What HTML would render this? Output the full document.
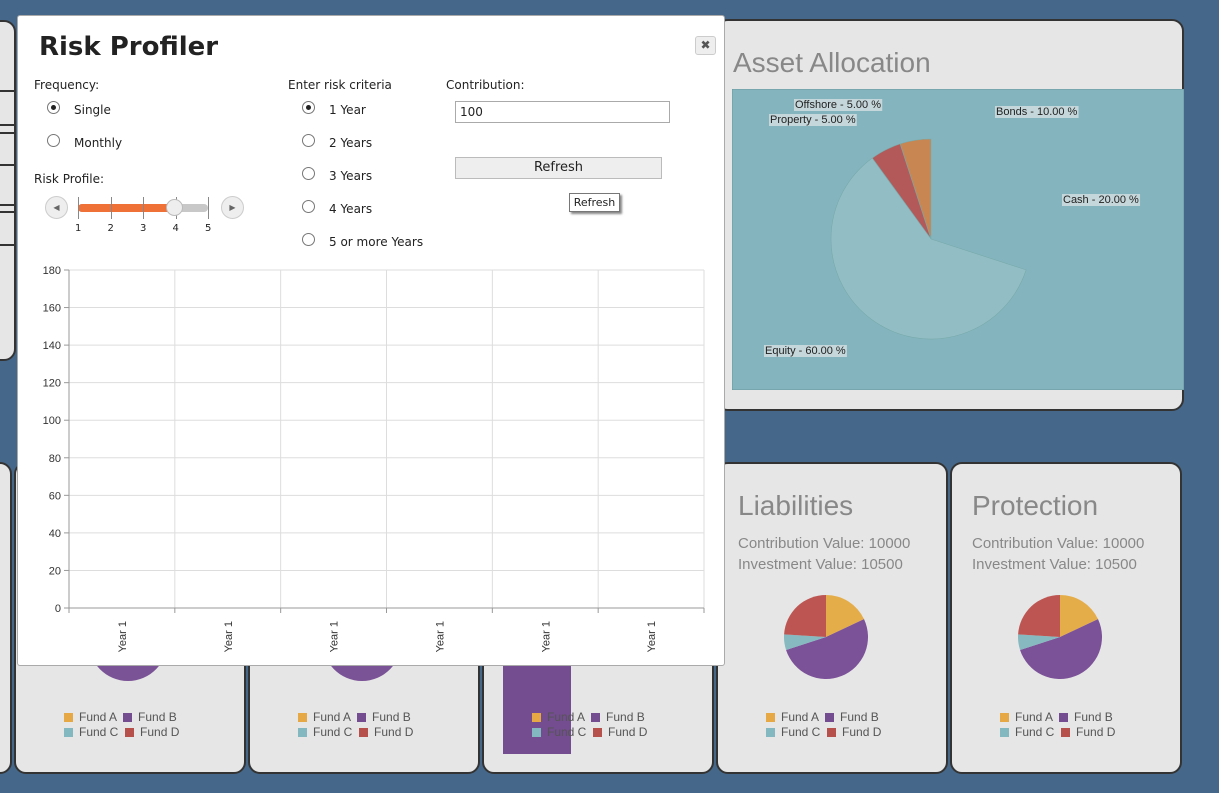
<!DOCTYPE html>
<html><head><meta charset="utf-8">
<style>
*{box-sizing:border-box;margin:0;padding:0}
body{width:1219px;height:793px;background:#45688a;position:relative;overflow:hidden;font-family:"Liberation Sans",sans-serif}
.card{position:absolute;background:#e6e6e6;border:2px solid #333;border-radius:12px}
.ctitle{position:absolute;color:#888;font-size:28px;font-family:"Liberation Sans",sans-serif}
.ctext{position:absolute;color:#888;font-size:15px;line-height:21px}
.legend{position:absolute;font-size:12px;color:#555;line-height:15px}
.legend span.sq{display:inline-block;width:9px;height:9px;margin-right:6px;vertical-align:-1px}
#modal{position:absolute;left:17px;top:15px;width:708px;height:651px;background:#fff;border:1px solid #aaa;border-radius:3px;font-family:"DejaVu Sans",sans-serif;font-size:12px;color:#222}
.lbl{position:absolute;white-space:nowrap}
.radio{position:absolute;width:13px;height:13px;border:1px solid #777;border-radius:50%;background:#fff}
.radio.on::after{content:"";position:absolute;left:3px;top:3px;width:5px;height:5px;border-radius:50%;background:#222}
</style></head><body>
<div class="card" style="left:-20px;top:20px;width:36px;height:341px">
 <div style="position:absolute;left:0;top:68px;width:34px;border-top:2px solid #333"></div>
 <div style="position:absolute;left:0;top:102px;width:34px;border-top:2px solid #333"></div>
 <div style="position:absolute;left:0;top:110px;width:34px;border-top:2px solid #333"></div>
 <div style="position:absolute;left:0;top:142px;width:34px;border-top:2px solid #333"></div>
 <div style="position:absolute;left:0;top:182px;width:34px;border-top:2px solid #333"></div>
 <div style="position:absolute;left:0;top:189px;width:34px;border-top:2px solid #333"></div>
 <div style="position:absolute;left:0;top:222px;width:34px;border-top:2px solid #333"></div>
</div>
<div class="card" style="left:716px;top:19px;width:468px;height:392px">
 <div class="ctitle" style="left:15px;top:26px">Asset Allocation</div>
 <svg id="alloc" style="position:absolute;left:14px;top:68px" width="452" height="301"></svg>
</div>
<div class="card" style="left:-20px;top:462px;width:32px;height:312px"></div>
<div class="card" style="left:14px;top:462px;width:232px;height:312px">
 <div style="position:absolute;left:72px;top:135px;width:80px;height:82px;border-radius:50%;background:#7a5296"></div>
 <div class="legend" style="left:48px;top:246px"><span class="sq" style="background:#e5a845"></span>Fund A &nbsp;<span class="sq" style="background:#744c90"></span>Fund B<br><span class="sq" style="background:#83b8c0"></span>Fund C &nbsp;<span class="sq" style="background:#b5514a"></span>Fund D</div>
</div>
<div class="card" style="left:248px;top:462px;width:232px;height:312px">
 <div style="position:absolute;left:72px;top:135px;width:80px;height:82px;border-radius:50%;background:#7a5296"></div>
 <div class="legend" style="left:48px;top:246px"><span class="sq" style="background:#e5a845"></span>Fund A &nbsp;<span class="sq" style="background:#744c90"></span>Fund B<br><span class="sq" style="background:#83b8c0"></span>Fund C &nbsp;<span class="sq" style="background:#b5514a"></span>Fund D</div>
</div>
<div class="card" style="left:482px;top:462px;width:232px;height:312px">
 <div style="position:absolute;left:19px;top:190px;width:68px;height:100px;background:#744c90"></div>
 <div class="legend" style="left:48px;top:246px"><span class="sq" style="background:#e5a845"></span>Fund A &nbsp;<span class="sq" style="background:#744c90"></span>Fund B<br><span class="sq" style="background:#83b8c0"></span>Fund C &nbsp;<span class="sq" style="background:#b5514a"></span>Fund D</div>
</div>
<div class="card" style="left:716px;top:462px;width:232px;height:312px">
 <div class="ctitle" style="left:20px;top:26px">Liabilities</div>
 <div class="ctext" style="left:20px;top:69px">Contribution Value: 10000<br>Investment Value: 10500</div>
 <svg class="fpie" style="position:absolute;left:64px;top:129px" width="88" height="88"></svg>
 <div class="legend" style="left:48px;top:246px"><span class="sq" style="background:#e5a845"></span>Fund A &nbsp;<span class="sq" style="background:#744c90"></span>Fund B<br><span class="sq" style="background:#83b8c0"></span>Fund C &nbsp;<span class="sq" style="background:#b5514a"></span>Fund D</div>
</div>
<div class="card" style="left:950px;top:462px;width:232px;height:312px">
 <div class="ctitle" style="left:20px;top:26px">Protection</div>
 <div class="ctext" style="left:20px;top:69px">Contribution Value: 10000<br>Investment Value: 10500</div>
 <svg class="fpie" style="position:absolute;left:64px;top:129px" width="88" height="88"></svg>
 <div class="legend" style="left:48px;top:246px"><span class="sq" style="background:#e5a845"></span>Fund A &nbsp;<span class="sq" style="background:#744c90"></span>Fund B<br><span class="sq" style="background:#83b8c0"></span>Fund C &nbsp;<span class="sq" style="background:#b5514a"></span>Fund D</div>
</div>

<div id="modal">
 <div class="lbl" style="left:21px;top:16px;font-size:26px;font-weight:bold">Risk Profiler</div>
 <div style="position:absolute;left:677px;top:20px;width:21px;height:19px;border:1px solid #ccc;border-radius:3px;background:#eee;text-align:center;font-size:12px;line-height:17px;color:#555;font-weight:bold">✖</div>
 <div class="lbl" style="left:16px;top:62px">Frequency:</div>
 <div class="radio on" style="left:29px;top:85px"></div><div class="lbl" style="left:56px;top:87px">Single</div>
 <div class="radio" style="left:29px;top:118px"></div><div class="lbl" style="left:56px;top:120px">Monthly</div>
 <div class="lbl" style="left:16px;top:156px">Risk Profile:</div>
 <div style="position:absolute;left:27px;top:180px;width:23px;height:23px;border:1px solid #ccc;border-radius:50%;background:#eee;font-size:8px;color:#666;text-align:center;line-height:21px">◀</div>
 <div style="position:absolute;left:203px;top:180px;width:23px;height:23px;border:1px solid #ccc;border-radius:50%;background:#eee;font-size:8px;color:#666;text-align:center;line-height:21px">▶</div>
 <div style="position:absolute;left:60px;top:188px;width:130px;height:8px;border-radius:4px;background:#c8c8c8"></div>
 <div style="position:absolute;left:60px;top:188px;width:97px;height:8px;border-radius:4px;background:#f07138"></div>
 <div id="ticks"></div>
 <div style="position:absolute;left:148px;top:183px;width:17px;height:17px;border-radius:50%;border:1px solid #bbb;background:#eee"></div>
 <div class="lbl" style="left:270px;top:62px">Enter risk criteria</div>
 <div class="radio on" style="left:284px;top:85px"></div><div class="lbl" style="left:311px;top:87px">1 Year</div>
 <div class="radio" style="left:284px;top:118px"></div><div class="lbl" style="left:311px;top:120px">2 Years</div>
 <div class="radio" style="left:284px;top:151px"></div><div class="lbl" style="left:311px;top:153px">3 Years</div>
 <div class="radio" style="left:284px;top:184px"></div><div class="lbl" style="left:311px;top:186px">4 Years</div>
 <div class="radio" style="left:284px;top:217px"></div><div class="lbl" style="left:311px;top:219px">5 or more Years</div>
 <div class="lbl" style="left:428px;top:62px">Contribution:</div>
 <div style="position:absolute;left:437px;top:85px;width:215px;height:22px;border:1px solid #aaa;padding:3px 4px;font-size:12px">100</div>
 <div style="position:absolute;left:437px;top:141px;width:207px;height:22px;border:1px solid #bbb;background:#eee;text-align:center;line-height:20px;font-size:13px">Refresh</div>
 <div style="position:absolute;left:551px;top:177px;width:51px;height:19px;border:1px solid #777;background:#fff;box-shadow:2px 2px 2px #888;font-size:11px;text-align:center;line-height:17px">Refresh</div>
 <svg id="chart" style="position:absolute;left:0;top:240px" width="706" height="410"></svg>
</div>

<script>
const NS="http://www.w3.org/2000/svg";
function mk(p,t,a){const e=document.createElementNS(NS,t);for(const k in a)e.setAttribute(k,a[k]);p.appendChild(e);return e;}
// Projection chart data
const categories=["Year 1","Year 1","Year 1","Year 1","Year 1","Year 1"];
const seriesValues=[0,0,0,0,0,0];
const yTicks=[0,20,40,60,80,100,120,140,160,180];
const allocLabels=["Offshore","Property","Equity","Cash","Bonds"];
const allocValues=[5,5,60,20,10];
const allocColors=["#c88652","#b4595a","#93bdc5","none","none"];
const fundValues=[18,52,6,24];
const fundColors=["#e5ad4a","#7b5198","#86b9c0","#bd5652"];
const sliderTicks=[1,2,3,4,5];

(function(){
 const svg=document.getElementById('chart');
 const x0=51,x1=686,y0=352,y1=14,yMax=180;
 const ys=v=>y0-(v/yMax)*(y0-y1);
 const bw=(x1-x0)/categories.length;
 yTicks.forEach(t=>{
  const g=mk(svg,'line',{x1:x0,x2:x1,y1:ys(t),y2:ys(t),stroke:'#ddd'});
  
  mk(svg,'line',{x1:x0-5,x2:x0,y1:ys(t),y2:ys(t),stroke:'#999'});
  const tx=mk(svg,'text',{x:x0-8,y:ys(t)+4,'text-anchor':'end','font-size':11,fill:'#333','font-family':'Liberation Sans'});
  tx.textContent=t;
  
 });
 categories.forEach((c,i)=>{
  const xl=x0+bw*(i+1);
  mk(svg,'line',{x1:xl,x2:xl,y1:y1,y2:y0,stroke:'#ddd'});
  mk(svg,'line',{x1:x0+bw*i,x2:x0+bw*i,y1:y0,y2:y0+5,stroke:'#999'});
  const cx=x0+bw*(i+0.5);
  const v=seriesValues[i];
  const b=mk(svg,'rect',{x:cx-bw*0.3,y:ys(v),width:bw*0.6,height:y0-ys(v),fill:'#744c90'});
  
  const t=mk(svg,'text',{x:0,y:0,'text-anchor':'end','font-size':11,fill:'#333','font-family':'Liberation Sans',transform:`translate(${cx+4},${y0+13}) rotate(-90)`});
  t.textContent=c;
  
 });
 mk(svg,'line',{x1:x0,x2:x0,y1:y1,y2:y0,stroke:'#999'});
 mk(svg,'line',{x1:x0,x2:x1,y1:y0,y2:y0,stroke:'#999'});
 mk(svg,'line',{x1:x1,x2:x1,y1:y0,y2:y0+5,stroke:'#999'});
 const tk=document.getElementById('ticks');
 sliderTicks.forEach((s,i)=>{
  const x=60+i*32.5;
  const d=document.createElement('div');d.style.cssText=`position:absolute;left:${x}px;top:181px;width:1px;height:22px;background:#888`;tk.appendChild(d);
  const l=document.createElement('div');l.className='lbl';l.style.cssText=`left:${x-3}px;top:207px;font-size:10px`;l.textContent=s;
  
  
  tk.appendChild(l);
 });
})();

(function(){
 const svg=document.getElementById('alloc');
 mk(svg,'rect',{x:0,y:0,width:452,height:301,fill:'#84b5bf',stroke:'#6a969f'});
 const cx=199,cy=150,r=100;
 const total=allocValues.reduce((a,b)=>a+b,0);
 let a=0;
 const pt=ang=>[cx-r*Math.sin(ang),cy-r*Math.cos(ang)];
 allocValues.forEach((v,i)=>{
  const da=v/total*2*Math.PI;
  const [sx,sy]=pt(a),[ex,ey]=pt(a+da);
  if(allocColors[i]!=='none'){
   const p=mk(svg,'path',{d:`M${cx},${cy}L${sx},${sy}A${r},${r} 0 ${da>Math.PI?1:0} 0 ${ex},${ey}Z`,fill:allocColors[i],stroke:'#7aa',"stroke-width":0.6});
   
  }
  a+=da;
 });
 const labs=[[63,19],[38,34],[33,265],[331,114],[264,26]];
 allocLabels.forEach((l,i)=>{
  const t=mk(svg,'text',{x:labs[i][0],y:labs[i][1],'font-size':11,fill:'#222','font-family':'Liberation Sans'});
  t.textContent=l+' - '+allocValues[i].toFixed(2)+' %';
  
  const bb=t.getBBox();
  const bg=mk(svg,'rect',{x:bb.x-1,y:bb.y,width:bb.width+2,height:bb.height,fill:'#c5d7da'});
  svg.insertBefore(bg,t);
 });
})();

document.querySelectorAll('.fpie').forEach(svg=>{
 
 
 const cx=44,cy=44,r=42,total=fundValues.reduce((a,b)=>a+b,0);
 let a=0;
 const pt=ang=>[cx+r*Math.sin(ang),cy-r*Math.cos(ang)];
 fundValues.forEach((v,i)=>{
  const da=v/total*2*Math.PI;const [sx,sy]=pt(a),[ex,ey]=pt(a+da);
  const p=mk(svg,'path',{d:`M${cx},${cy}L${sx},${sy}A${r},${r} 0 ${da>Math.PI?1:0} 1 ${ex},${ey}Z`,fill:fundColors[i]});
  
  
  a+=da;
 });
});
</script>
</body></html>
